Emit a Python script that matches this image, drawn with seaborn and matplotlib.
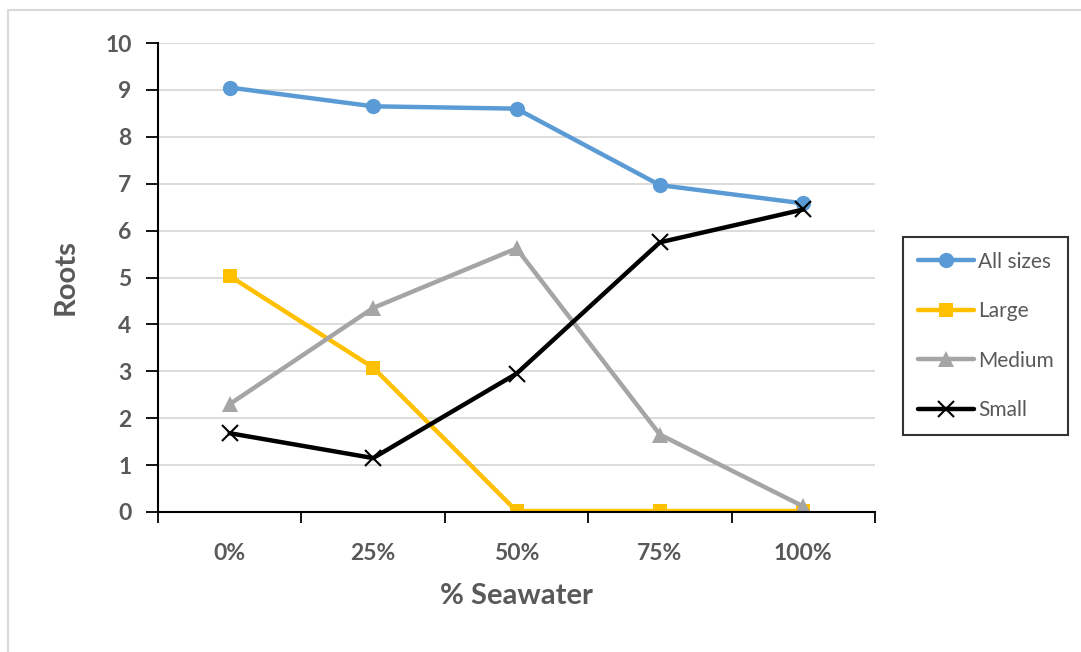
import matplotlib
matplotlib.use("Agg")
import matplotlib.pyplot as plt
from matplotlib.patches import Rectangle
from matplotlib.ticker import FixedLocator
import seaborn as sns
import pandas as pd

categories = ["0%", "25%", "50%", "75%", "100%"]
all_sizes = [9.05, 8.65, 8.6, 6.97, 6.58]
large = [5.03, 3.08, 0.02, 0.02, 0.02]
medium = [2.3, 4.35, 5.62, 1.65, 0.12]
small = [1.68, 1.15, 2.95, 5.75, 6.45]
series_names = ["All sizes", "Large", "Medium", "Small"]
y_ticks = list(range(0, 11))

sns.set_theme(style="white")
plt.rcParams["font.family"] = ["Lato", "DejaVu Sans"]

text_color = "#595959"
styles = {
    "All sizes": dict(color="#5b9bd5", marker="o", markersize=11, markeredgewidth=0),
    "Large": dict(color="#ffc000", marker="s", markersize=10, markeredgewidth=0),
    "Medium": dict(color="#a5a5a5", marker="^", markersize=11, markeredgewidth=0),
    "Small": dict(color="#000000", marker="x", markersize=12, markeredgewidth=1.5),
}

fig = plt.figure(figsize=(10.81, 6.52), dpi=100)
fig.patch.set_facecolor("white")
fig.patches.append(Rectangle((8 / 1081, -0.2), 1.3, 1.2 - 10 / 652,
                             transform=fig.transFigure, fill=False,
                             edgecolor="#d9d9d9", linewidth=1.5, zorder=0))

ax = fig.add_axes([158 / 1081, 1 - 512 / 652, (875 - 158) / 1081, (512 - 43) / 652])

positions = list(range(len(categories)))
for name, vals in zip(series_names, [all_sizes, large, medium, small]):
    st = styles[name]
    sns.lineplot(x=positions, y=vals, ax=ax, color=st["color"], linewidth=3.2,
                 marker=st["marker"], markersize=st["markersize"],
                 markeredgewidth=st["markeredgewidth"], markeredgecolor=st["color"],
                 label=name, legend=False)

ax.set_xlim(-0.5, 4.5)
ax.set_ylim(0, 10)
ax.set_yticks(y_ticks)
ax.set_xticks(positions)
ax.set_xticklabels(categories)
ax.xaxis.set_minor_locator(FixedLocator([i - 0.5 for i in range(len(categories) + 1)]))
ax.tick_params(axis="x", which="major", length=0, pad=22, labelsize=16.5, labelcolor=text_color)
ax.tick_params(axis="x", which="minor", length=8, width=1.3, color="black", direction="out", bottom=True)
ax.tick_params(axis="y", which="major", length=9, width=1.3, color="black", direction="out",
               left=True, pad=10, labelsize=16.5, labelcolor=text_color)
for lab in ax.get_xticklabels() + ax.get_yticklabels():
    lab.set_fontweight("bold")

ax.grid(axis="y", color="#d9d9d9", linewidth=1.3)
ax.set_axisbelow(True)
for side in ["top", "right"]:
    ax.spines[side].set_visible(False)
for side in ["left", "bottom"]:
    ax.spines[side].set_color("black")
    ax.spines[side].set_linewidth(1.5)

ax.set_xlabel("% Seawater", fontsize=21, fontweight="bold", color=text_color, labelpad=14)
ax.set_ylabel("Roots", fontsize=21, fontweight="bold", color=text_color, labelpad=19)

handles = list(ax.get_lines())
leg = fig.legend(handles, series_names, loc="upper left",
                 bbox_to_anchor=(903 / 1081, 1 - 237 / 652),
                 frameon=True, fancybox=False, edgecolor="black",
                 fontsize=15, handlelength=2.7, handletextpad=0.2,
                 labelspacing=1.42, borderpad=0.7, borderaxespad=0)
leg.get_frame().set_linewidth(1.5)
for t in leg.get_texts():
    t.set_color(text_color)

fig.savefig("out.png", dpi=100, facecolor="white")
